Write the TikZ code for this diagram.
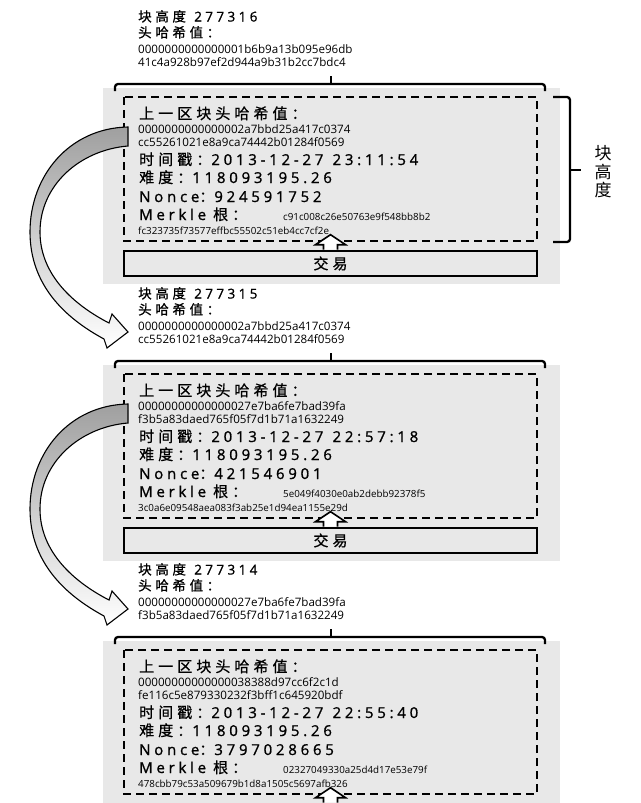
\documentclass[tikz,border=0pt]{standalone}
\usepackage{fontspec}
\setmainfont{Open Sans}
\newfontfamily\cjk{Noto Sans CJK SC}
\newfontfamily\wide[LetterSpace=25,FakeBold=1.1,WordSpace=1.2]{Open Sans}
\newfontfamily\widecjk[LetterSpace=27,FakeBold=0.8]{Noto Sans CJK SC}
\usetikzlibrary{arrows.meta}

\definecolor{panel}{gray}{0.91}

\tikzset{
  headtext/.style={anchor=base west, inner sep=0pt, text height=10pt, text depth=1pt,
    font=\fontsize{13.5}{16}\selectfont\wide},
  fieldtext/.style={anchor=base west, inner sep=0pt, font=\fontsize{15}{17}\selectfont\wide},
  hashtext/.style={anchor=base west, inner sep=0pt, font=\fontsize{11.6}{14}\selectfont},
  smalltext/.style={anchor=base west, inner sep=0pt, font=\fontsize{9.8}{11}\selectfont},
  headerbox/.style={draw, line width=2.2pt, dash pattern=on 8pt off 5pt},
  txbox/.style={draw, line width=2.6pt, fill=panel, minimum width=413pt,
    minimum height=25pt, inner sep=0pt, font=\fontsize{15}{17}\selectfont\widecjk},
  bracket/.style={line width=2.3pt, rounded corners=3pt},
  uparrow/.style={draw, line width=1.6pt, fill=white, line join=miter},
  linkarrow/.style={draw, line width=1.1pt, top color=gray!75, bottom color=white},
}

\begin{document}
\begin{tikzpicture}[x=1pt, y=-1pt]
  \useasboundingbox (0,0) rectangle (640,803);
  % One block per row: offset / height / header hash / previous hash / time / nonce / Merkle root.
  \foreach \i/\dy/\bh/\hA/\hB/\pA/\pB/\tm/\nc/\mA/\mB in {
    1/0/277316/0000000000000001b6b9a13b095e96db/41c4a928b97ef2d944a9b31b2cc7bdc4/0000000000000002a7bbd25a417c0374/cc55261021e8a9ca74442b01284f0569/23:11:54/924591752/c91c008c26e50763e9f548bb8b2/fc323735f73577effbc55502c51eb4cc7cf2e,
    2/277/277315/0000000000000002a7bbd25a417c0374/cc55261021e8a9ca74442b01284f0569/00000000000000027e7ba6fe7bad39fa/f3b5a83daed765f05f7d1b71a1632249/22:57:18/421546901/5e049f4030e0ab2debb92378f5/3c0a6e09548aea083f3ab25e1d94ea1155e29d,
    3/553/277314/00000000000000027e7ba6fe7bad39fa/f3b5a83daed765f05f7d1b71a1632249/00000000000000038388d97cc6f2c1d/fe116c5e879330232f3bff1c645920bdf/22:55:40/3797028665/02327049330a25d4d17e53e79f/478cbb79c53a509679b1d8a1505c5697afb326}{
    % Grey panel, top bracket, dashed header box.
    \fill[panel] (103,\dy+88) rectangle (560,\dy+284);
    \draw[bracket] (115,\dy+91) -- (115,\dy+84) -- (545,\dy+84) -- (545,\dy+91);
    \draw[line width=2.3pt] (331,\dy+84) -- (331,\dy+76);
    \draw[headerbox] (124,\dy+97) rectangle (537,\dy+241);
    % Header of the block above.
    \node[headtext] (bh\i) at (138,\dy+21.5) {{\widecjk 块高度} \bh};
    \node[headtext] (hl\i) at (138,\dy+37.5) {\widecjk 头哈希值：};
    \node[hashtext] (ha\i) at (138,\dy+53) {\hA};
    \node[hashtext] (hb\i) at (138,\dy+66) {\hB};
    % Fields.
    \node[fieldtext] (pl\i) at (139,\dy+119) {\widecjk 上一区块头哈希值：};
    \node[hashtext] (pa\i) at (138,\dy+133) {\pA};
    \node[hashtext] (pb\i) at (138,\dy+146) {\pB};
    \node[fieldtext] (tm\i) at (139,\dy+165) {{\widecjk 时间戳：}2013-12-27 \tm};
    \node[fieldtext] (df\i) at (139,\dy+183) {{\widecjk 难度：}118093195.26};
    \node[fieldtext] (nc\i) at (139,\dy+202) {Nonce{\widecjk ：}\nc};
    \node[fieldtext] (mk\i) at (139,\dy+220) {Merkle\hspace{7pt}{\widecjk 根：}};
    \node[smalltext] (ma\i) at (283,\dy+220) {\mA};
    \node[smalltext] (mb\i) at (138,\dy+234) {\mB};
    % Transactions and hollow arrow up to the header.
    \node[txbox] (tx\i) at (330.5,\dy+263.5) {\ifnum\i<3 交易\fi};
    \draw[uparrow] ([xshift=-7pt]tx\i.north) -- ++(0,-5) -- ++(-8,0) -- ++(15,-10)
      -- ++(15,10) -- ++(-8,0) -- ++(0,5);
  }
  % Brace for the block height.
  \draw[bracket] (553,97) -- (570,97) -- (570,242) -- (553,242);
  \draw[line width=2.3pt] (570,170) -- (581,170);
  \node[font=\fontsize{17}{18.5}\selectfont\cjk, align=center, inner sep=0pt] (bhlabel)
    at (603,172) {块\\高\\度};
  % Links from each previous hash to the header of the next block.
  \foreach \i in {1,2}{
    \begin{scope}[shift={(pa\i.base west)}]
      \path[linkarrow] (-10,-6) .. controls (-68,-5) and (-108,42) .. (-108,99)
        .. controls (-108,152) and (-73,185) .. (-34,206) -- (-31,215) -- (-10,199)
        -- (-26,181) -- (-29,190) .. controls (-64,172) and (-98,142) .. (-98,99)
        .. controls (-98,52) and (-58,17) .. (-10,13) -- cycle;
    \end{scope}
  }
\end{tikzpicture}
\end{document}
